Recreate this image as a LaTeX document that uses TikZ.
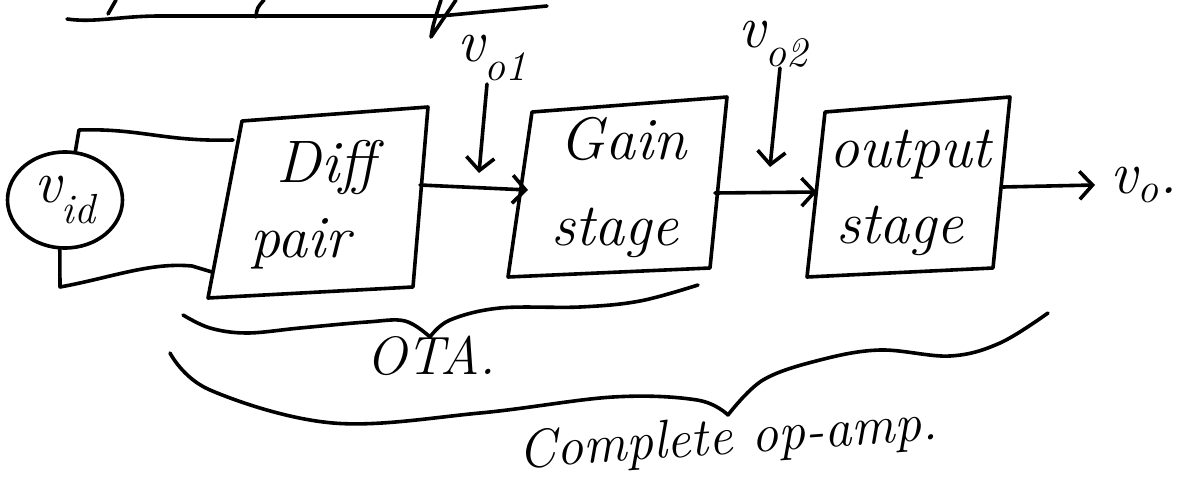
\documentclass[tikz,border=0pt]{standalone}
\usepackage{fontspec}
\usetikzlibrary{arrows.meta,shapes.geometric}

\begin{document}
\begin{tikzpicture}[x=1pt,y=-1pt,line width=3.6pt,line cap=round,line join=round,
    sig/.style={-{Straight Barb[length=13pt,width=28pt]}},
    blocktext/.style={font=\fontsize{60}{72}\selectfont\itshape,anchor=base,inner sep=0pt},
    siglabel/.style={font=\fontsize{60}{64}\selectfont\itshape,inner sep=0pt},
    bracetext/.style={font=\fontsize{54}{60}\selectfont\itshape,inner sep=0pt}]
\useasboundingbox (0,0) rectangle (1180,484);

% cut-off underline at the top
\draw (67,19) .. controls (95,23) and (120,16) .. (160,16) -- (440,16) -- (547,6);
\draw (108,14) -- (116,0);
\draw (256,17) .. controls (257,8) .. (264,0);
\draw (456,0) -- (431,37) .. controls (433,25) .. (441,0);

% source
\node[ellipse,draw,minimum width=115pt,minimum height=96pt,siglabel] (vid) at (65,200) {v\textsubscript{id}};

% block corners
\coordinate (dp-tl) at (242,121); \coordinate (dp-tr) at (428,107);
\coordinate (dp-br) at (413,287); \coordinate (dp-bl) at (208,298);
\coordinate (gs-tl) at (532,112); \coordinate (gs-tr) at (727,97);
\coordinate (gs-br) at (710,268); \coordinate (gs-bl) at (508,277);
\coordinate (os-tl) at (825,112); \coordinate (os-tr) at (1010,97);
\coordinate (os-br) at (993,268); \coordinate (os-bl) at (807,277);
\foreach \b in {dp,gs,os}
  \draw (\b-tl) -- (\b-tr) -- (\b-br) -- (\b-bl) -- cycle;

\node[blocktext] (dp1) at (326,182) {Diff};
\node[blocktext] (dp2) at (300,257) {pair};
\node[blocktext] (gs1) at (623,160) {Gain};
\node[blocktext] (gs2) at (615,245) {stage};
\node[blocktext] (os1) at (910,167) {output};
\node[blocktext] (os2) at (900,243) {stage};

% input wires
\coordinate (dp-inp) at (233,140);
\coordinate (dp-inn) at (212,272);
\draw (vid.78) -- (79,130) .. controls (140,128) and (165,142) .. (dp-inp);
\draw (vid.264) -- (60,287) .. controls (110,278) and (150,262) .. (192,266) -- (dp-inn);

% signal path
\coordinate (dp-out) at (420,185); \coordinate (gs-in) at (528,190);
\coordinate (gs-out) at (715,193); \coordinate (os-in) at (817,192);
\coordinate (os-out) at (1003,187); \coordinate (vo-end) at (1095,185);
\draw[sig] (dp-out) -- (gs-in);
\draw[sig] (gs-out) -- (os-in);
\draw[sig] (os-out) -- (vo-end);
\node[siglabel] (vo) at (1144,185) {v\textsubscript{o}.};

\node[siglabel] (vo1) at (492,58) {v\textsubscript{o1}};
\coordinate (vo1-top) at (487,84); \coordinate (vo1-tip) at (479,173);
\draw[sig] (vo1-top) -- (vo1-tip);
\node[siglabel] (vo2) at (773,44) {v\textsubscript{o2}};
\coordinate (vo2-top) at (780,68); \coordinate (vo2-tip) at (770,167);
\draw[sig] (vo2-top) -- (vo2-tip);

% braces
\draw plot[smooth,tension=0.6] coordinates {(183,315) (210,328) (247,333) (300,328) (367,322) (405,321) (430,337)};
\draw plot[smooth,tension=0.6] coordinates {(430,337) (450,320) (500,308) (580,307) (640,301) (698,285)};
\node[bracetext] (ota) at (431,356) {OTA.};

\draw plot[smooth,tension=0.6] coordinates {(170,353) (210,390) (333,423) (480,413) (613,397) (697,400) (728,415)};
\draw plot[smooth,tension=0.6] coordinates {(728,415) (763,380) (820,360) (880,350) (950,356) (1000,343) (1048,313)};
\node[bracetext,rotate=4] (opamp) at (728,440) {Complete op-amp.};
\end{tikzpicture}
\end{document}
